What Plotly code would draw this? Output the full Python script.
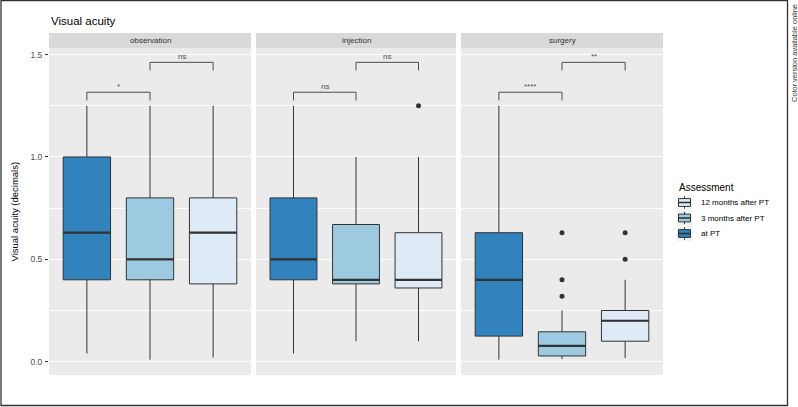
import plotly.graph_objects as go

facets = ["observation", "injection", "surgery"]
assessments = ["at PT", "3 months after PT", "12 months after PT"]
legend_order = ["12 months after PT", "3 months after PT", "at PT"]
fill_colors = {"at PT": "#3182BD", "3 months after PT": "#9ECAE1", "12 months after PT": "#DEEBF7"}

# box statistics per facet, in assessment order (at PT, 3 months, 12 months)
lower_whisker = {"observation": [0.04, 0.01, 0.02], "injection": [0.04, 0.10, 0.10], "surgery": [0.01, 0.013, 0.018]}
q1_vals = {"observation": [0.40, 0.40, 0.38], "injection": [0.40, 0.38, 0.36], "surgery": [0.125, 0.028, 0.10]}
median_vals = {"observation": [0.63, 0.50, 0.63], "injection": [0.50, 0.40, 0.40], "surgery": [0.40, 0.077, 0.20]}
q3_vals = {"observation": [1.00, 0.80, 0.80], "injection": [0.80, 0.67, 0.63], "surgery": [0.63, 0.146, 0.25]}
upper_whisker = {"observation": [1.25, 1.25, 1.25], "injection": [1.25, 1.00, 1.00], "surgery": [1.25, 0.25, 0.40]}
outliers = {
    "observation": [[], [], []],
    "injection": [[], [], [1.25]],
    "surgery": [[], [0.63, 0.40, 0.32], [0.63, 0.50]],
}
# significance brackets: (from, to), bracket height, label
sig_pairs = [(1, 2), (2, 3)]
sig_heights = [1.316, 1.462]
sig_labels = {"observation": ["*", "ns"], "injection": ["ns", "ns"], "surgery": ["****", "**"]}

W, H = 798, 407
L, R, T, B = 49, 663, 48, 375
pw, ph = R - L, B - T
panel_px = [(49, 251), (256, 456), (461, 663)]

def px_x(p):
    return (p - L) / pw

def px_y(p):
    return (B - p) / ph

fig = go.Figure()
layout_axes = {}
shapes = []
annotations = []

for i, f in enumerate(facets):
    n = "" if i == 0 else str(i + 1)
    xa, ya = "x" + n, "y" + n
    for j, a in enumerate(assessments):
        pos = j + 1
        fig.add_trace(go.Box(
            x=[pos], q1=[q1_vals[f][j]], median=[median_vals[f][j]], q3=[q3_vals[f][j]],
            lowerfence=[lower_whisker[f][j]], upperfence=[upper_whisker[f][j]],
            width=0.75, whiskerwidth=0, boxpoints=False,
            fillcolor=fill_colors[a], line=dict(color="#333333", width=1),
            name=a, showlegend=False,
            xaxis=xa, yaxis=ya, hoverinfo="skip",
        ))
        fig.add_trace(go.Scatter(
            x=[pos - 0.375, pos + 0.375], y=[median_vals[f][j]] * 2, mode="lines",
            line=dict(color="#333333", width=2.2), showlegend=False,
            xaxis=xa, yaxis=ya, hoverinfo="skip",
        ))
        if outliers[f][j]:
            fig.add_trace(go.Scatter(
                x=[pos] * len(outliers[f][j]), y=outliers[f][j], mode="markers",
                marker=dict(color="#333333", size=5), showlegend=False,
                xaxis=xa, yaxis=ya, hoverinfo="skip",
            ))
    for (p0, p1), h, lab in zip(sig_pairs, sig_heights, sig_labels[f]):
        fig.add_trace(go.Scatter(
            x=[p0, p0, p1, p1], y=[h - 0.04, h, h, h - 0.04], mode="lines",
            line=dict(color="#4D4D4D", width=1), showlegend=False,
            xaxis=xa, yaxis=ya, hoverinfo="skip",
        ))
        annotations.append(dict(
            x=(p0 + p1) / 2, y=h, xref=xa, yref=ya, text=lab, showarrow=False,
            yanchor="bottom", yshift=-1, font=dict(size=8, color="#4D4D4D"),
        ))
    d0, d1 = px_x(panel_px[i][0]), px_x(panel_px[i][1])
    layout_axes["xaxis" + n] = dict(
        domain=[d0, d1], range=[0.4, 3.6], showticklabels=False, ticks="",
        showgrid=False, zeroline=False, anchor=ya,
    )
    layout_axes["yaxis" + n] = dict(
        range=[-0.065, 1.532], anchor=xa, zeroline=False,
        tickvals=[0, 0.5, 1.0, 1.5], ticktext=["0.0", "0.5", "1.0", "1.5"],
        gridcolor="white", gridwidth=1.1,
        minor=dict(tickvals=[0.25, 0.75, 1.25], showgrid=True, gridcolor="white", gridwidth=0.5, ticks=""),
        showticklabels=(i == 0), ticks="outside" if i == 0 else "", ticklen=3,
        tickcolor="#333333", tickfont=dict(size=8.5, color="#4D4D4D"), ticklabelstandoff=1,
        matches="y" if i > 0 else None,
    )
    shapes.append(dict(type="rect", xref="paper", yref="paper", x0=d0, x1=d1, y0=0, y1=1,
                       fillcolor="#EBEBEB", line=dict(width=0), layer="below"))
    shapes.append(dict(type="rect", xref="paper", yref="paper", x0=d0, x1=d1, y0=1.0, y1=px_y(33),
                       fillcolor="#D9D9D9", line=dict(width=0), layer="below"))
    annotations.append(dict(x=(d0 + d1) / 2, y=px_y(40.5), xref="paper", yref="paper", text=f,
                            showarrow=False, font=dict(size=8, color="#333333"),
                            xanchor="center", yanchor="middle"))

# legend drawn as ggplot-style keys
annotations.append(dict(x=px_x(677), y=px_y(187), xref="paper", yref="paper", text="Assessment",
                        showarrow=False, xanchor="left", yanchor="middle",
                        font=dict(size=10, color="#000000")))
key_centers = [202.5, 218.0, 233.5]
for a, cy in zip(legend_order, key_centers):
    kx0, kx1 = 676.5, 692.5
    shapes.append(dict(type="rect", xref="paper", yref="paper", x0=px_x(kx0), x1=px_x(kx1),
                       y0=px_y(cy + 7.75), y1=px_y(cy - 7.75), fillcolor="#F2F2F2", line=dict(width=0)))
    shapes.append(dict(type="line", xref="paper", yref="paper", x0=px_x(684.5), x1=px_x(684.5),
                       y0=px_y(cy + 6.2), y1=px_y(cy - 6.2), line=dict(color="#333333", width=1)))
    shapes.append(dict(type="rect", xref="paper", yref="paper", x0=px_x(678.5), x1=px_x(690.5),
                       y0=px_y(cy + 3.9), y1=px_y(cy - 3.9), fillcolor=fill_colors[a],
                       line=dict(color="#333333", width=1)))
    shapes.append(dict(type="line", xref="paper", yref="paper", x0=px_x(678.5), x1=px_x(690.5),
                       y0=px_y(cy), y1=px_y(cy), line=dict(color="#333333", width=1.6)))
    annotations.append(dict(x=px_x(699), y=px_y(cy), xref="paper", yref="paper", text=a,
                            showarrow=False, xanchor="left", yanchor="middle",
                            font=dict(size=8, color="#000000")))

# outer frame
shapes.append(dict(type="rect", xref="paper", yref="paper", x0=px_x(1), x1=px_x(787.5), y0=px_y(405.5), y1=px_y(0.5),
                   line=dict(color="#333333", width=1.3), fillcolor="rgba(0,0,0,0)"))

annotations.append(dict(x=0, y=px_y(21), xref="paper", yref="paper", text="Visual acuity", showarrow=False,
                        xanchor="left", yanchor="middle", font=dict(size=11.5, color="#000000")))
annotations.append(dict(x=px_x(14), y=0.5, xref="paper", yref="paper", text="Visual acuity (decimals)",
                        showarrow=False, textangle=-90, xanchor="center", yanchor="middle",
                        font=dict(size=9.5, color="#000000")))
annotations.append(dict(x=px_x(794), y=px_y(104), xref="paper", yref="paper",
                        text="Color version available online", showarrow=False, textangle=-90,
                        xanchor="center", yanchor="bottom", font=dict(size=7.5, color="#333333")))

fig.update_layout(
    width=W, height=H, margin=dict(l=L, r=W - R, t=T, b=H - B),
    paper_bgcolor="white", plot_bgcolor="rgba(0,0,0,0)",
    font=dict(family="Liberation Sans, Arial, sans-serif"),
    shapes=shapes, annotations=annotations, showlegend=False,
    **layout_axes,
)

fig.write_html("out.html", config={"displayModeBar": False},
               post_script="document.body.style.margin='0px';")
